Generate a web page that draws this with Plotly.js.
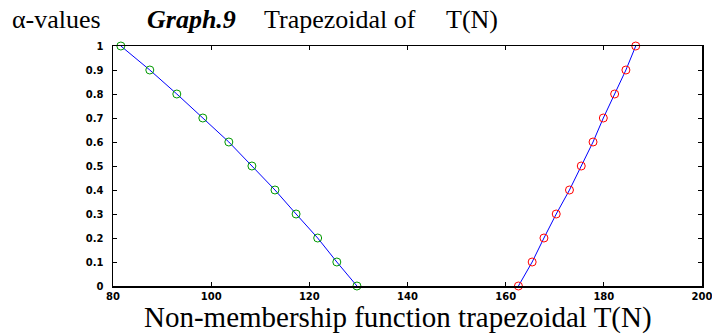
<!DOCTYPE html>
<html><head><meta charset="utf-8">
<script src="https://cdn.plot.ly/plotly-3.0.1.min.js"></script>
<style>body{margin:0;padding:0;background:#fff}#c{width:712px;height:335px}</style>
</head><body><div id="c"></div>
<script>
const alphaLeft = [1.0, 0.9, 0.8, 0.7, 0.6, 0.5, 0.4, 0.3, 0.2, 0.1, 0.0];
const xLeft = [81.6, 87.5, 93.0, 98.3, 103.6, 108.3, 113.0, 117.3, 121.7, 125.6, 129.7];
const alphaRight = [0.0, 0.1, 0.2, 0.3, 0.4, 0.5, 0.6, 0.7, 0.8, 0.9, 1.0];
const xRight = [162.6, 165.4, 167.8, 170.3, 173.0, 175.4, 177.8, 179.9, 182.2, 184.5, 186.5];
const yTicks = [0, 0.1, 0.2, 0.3, 0.4, 0.5, 0.6, 0.7, 0.8, 0.9, 1];
const yTickText = ['0', '0.1', '0.2', '0.3', '0.4', '0.5', '0.6', '0.7', '0.8', '0.9', '1'];
const xTicks = [80, 100, 120, 140, 160, 180, 200];
const titleParts = ['α-values', '<b><i>Graph.9</i></b>', 'Trapezoidal of', 'T(N)'];
const xTitle = 'Non-membership function trapezoidal T(N)';

const mk = (c) => ({symbol: 'circle-open', size: 8, color: c, line: {width: 1, color: c}});
const traces = [
  {x: xLeft, y: alphaLeft, mode: 'lines+markers', line: {color: '#0000ff', width: 1}, marker: mk('#009900'), cliponaxis: false, hoverinfo: 'none'},
  {x: xRight, y: alphaRight, mode: 'lines+markers', line: {color: '#0000ff', width: 1}, marker: mk('#ff0000'), cliponaxis: false, hoverinfo: 'none'}
];
const axisCommon = {showgrid: false, zeroline: false, showline: true, linecolor: '#000', linewidth: 1.5, mirror: 'allticks', ticks: 'inside', ticklen: 4, tickcolor: '#000', ticklabeloverflow: 'allow', tickfont: {family: 'DejaVu Sans', size: 10, color: '#000', weight: 'bold'}};
const serif = 'Liberation Serif';
const L = 113, W = 589;
const titlePx = [10, 145, 262, 444];
const annotations = titleParts.map((t, i) => ({
  xref: 'paper', yref: 'paper', x: (titlePx[i] - L) / W, y: 1.0, yshift: 10, xanchor: 'left', yanchor: 'bottom', showarrow: false,
  text: t, font: {family: serif, size: 26, color: '#000'}
}));
annotations.push({xref: 'paper', yref: 'paper', x: (397.5 - L) / W, y: 0, yshift: -13, xanchor: 'center', yanchor: 'top', showarrow: false,
  text: xTitle, font: {family: serif, size: 29, color: '#000'}});
const layout = {
  width: 712, height: 335,
  margin: {l: L, r: 10, t: 46, b: 49},
  showlegend: false,
  paper_bgcolor: '#fff', plot_bgcolor: '#fff',
  xaxis: Object.assign({}, axisCommon, {range: [80, 200], tickvals: xTicks, ticktext: xTicks.map(String)}),
  yaxis: Object.assign({}, axisCommon, {range: [0, 1], tickvals: yTicks, ticktext: yTickText, ticklabelstandoff: 6}),
  annotations: annotations
};
Plotly.newPlot('c', traces, layout, {staticPlot: true, displayModeBar: false});
</script></body></html>
